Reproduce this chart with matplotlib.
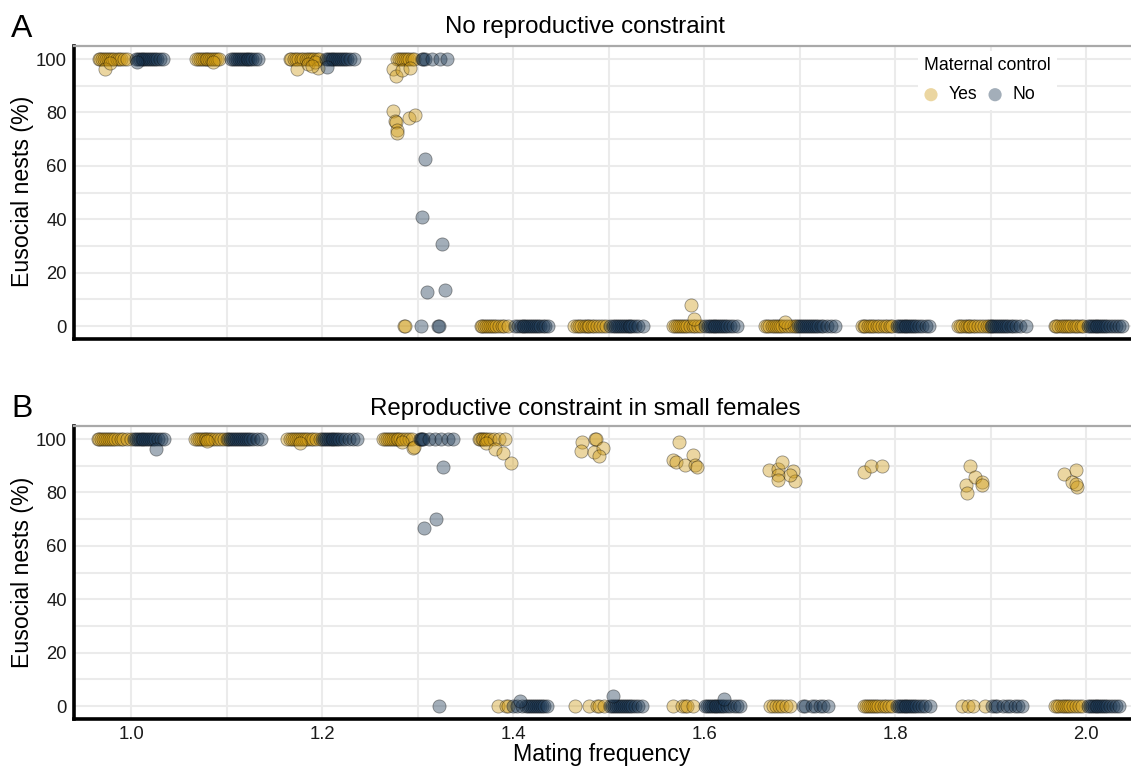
import matplotlib
matplotlib.use("Agg")
import matplotlib.pyplot as plt

plt.rcParams['font.family'] = ['Liberation Sans', 'DejaVu Sans']

# ---------------- data ----------------
titles = ["No reproductive constraint", "Reproductive constraint in small females"]
panel_letters = ["A", "B"]
groups = ["Yes", "No"]
legend_title = "Maternal control"
y_label = "Eusocial nests (%)"
x_label = "Mating frequency"
xticks_major = [1.0, 1.2, 1.4, 1.6, 1.8, 2.0]
xticks_minor = [1.1, 1.3, 1.5, 1.7, 1.9]
yticks_major = [0, 20, 40, 60, 80, 100]
yticks_minor = [10, 30, 50, 70, 90]

# Panel A, maternal control = Yes  (x = jittered mating frequency, y = % eusocial)
A_yes_x = [0.966, 0.968, 0.970, 0.972, 0.974, 0.976, 0.978, 0.980, 0.982, 0.985, 0.987, 0.990, 0.993, 0.996, 0.973, 0.978,
           1.068, 1.070, 1.072, 1.074, 1.076, 1.078, 1.080, 1.082, 1.084, 1.086, 1.088, 1.090, 1.092, 1.086,
           1.166, 1.168, 1.171, 1.173, 1.175, 1.178, 1.180, 1.183, 1.185, 1.187, 1.190, 1.192, 1.195, 1.197,
           1.174, 1.185, 1.196, 1.193, 1.190,
           1.279, 1.281, 1.283, 1.285, 1.287, 1.289, 1.291, 1.294, 1.296,
           1.274, 1.277, 1.284, 1.292, 1.274, 1.276, 1.277, 1.278, 1.279, 1.291, 1.297, 1.286, 1.287,
           1.366, 1.368, 1.370, 1.372, 1.374, 1.376, 1.378, 1.380, 1.382, 1.385, 1.388, 1.391, 1.395,
           1.464, 1.467, 1.469, 1.471, 1.474, 1.476, 1.478, 1.480, 1.483, 1.485, 1.488, 1.491, 1.494, 1.497,
           1.568, 1.570, 1.572, 1.574, 1.576, 1.578, 1.580, 1.582, 1.585, 1.588, 1.591, 1.594, 1.597, 1.586, 1.590,
           1.664, 1.666, 1.668, 1.671, 1.673, 1.675, 1.677, 1.680, 1.682, 1.685, 1.688, 1.691, 1.694, 1.696, 1.685,
           1.765, 1.767, 1.769, 1.772, 1.774, 1.776, 1.778, 1.781, 1.783, 1.786, 1.789, 1.792, 1.795, 1.797,
           1.866, 1.868, 1.870, 1.873, 1.875, 1.877, 1.879, 1.882, 1.884, 1.887, 1.890, 1.893, 1.896, 1.898,
           1.967, 1.969, 1.971, 1.974, 1.976, 1.978, 1.980, 1.982, 1.984, 1.987, 1.989, 1.992, 1.995, 1.997]
A_yes_y = [100, 100, 100, 100, 100, 100, 100, 100, 100, 100, 100, 100, 100, 100, 96.3, 98.4,
           100, 100, 100, 100, 100, 100, 100, 100, 100, 100, 100, 100, 100, 98.8,
           100, 100, 100, 100, 100, 100, 100, 100, 100, 100, 100, 100, 100, 100,
           96.3, 98.0, 96.7, 99.0, 97.5,
           100, 100, 100, 100, 100, 100, 100, 100, 100,
           96.3, 93.7, 96.0, 96.6, 80.6, 76.9, 76.3, 73.5, 72.2, 77.8, 79.1, 0, 0,
           0, 0, 0, 0, 0, 0, 0, 0, 0, 0, 0, 0, 0,
           0, 0, 0, 0, 0, 0, 0, 0, 0, 0, 0, 0, 0, 0,
           0, 0, 0, 0, 0, 0, 0, 0, 0, 0, 0, 0, 0, 7.8, 2.6,
           0, 0, 0, 0, 0, 0, 0, 0, 0, 0, 0, 0, 0, 0, 1.5,
           0, 0, 0, 0, 0, 0, 0, 0, 0, 0, 0, 0, 0, 0,
           0, 0, 0, 0, 0, 0, 0, 0, 0, 0, 0, 0, 0, 0,
           0, 0, 0, 0, 0, 0, 0, 0, 0, 0, 0, 0, 0, 0]

# Panel A, maternal control = No
A_no_x = [1.005, 1.007, 1.009, 1.011, 1.013, 1.015, 1.017, 1.019, 1.021, 1.023, 1.025, 1.027, 1.030, 1.033, 1.006,
          1.105, 1.107, 1.109, 1.111, 1.113, 1.115, 1.117, 1.119, 1.121, 1.123, 1.125, 1.127, 1.130, 1.133,
          1.204, 1.206, 1.208, 1.210, 1.212, 1.214, 1.216, 1.218, 1.220, 1.222, 1.224, 1.226, 1.229, 1.233, 1.205,
          1.305, 1.306, 1.308, 1.315, 1.324, 1.331,
          1.308, 1.305, 1.326, 1.310, 1.329, 1.304, 1.321, 1.322,
          1.402, 1.405, 1.408, 1.410, 1.412, 1.414, 1.416, 1.418, 1.420, 1.422, 1.424, 1.426, 1.428, 1.431, 1.434, 1.437,
          1.502, 1.505, 1.507, 1.509, 1.511, 1.513, 1.515, 1.517, 1.519, 1.521, 1.523, 1.525, 1.528, 1.531, 1.536,
          1.601, 1.604, 1.606, 1.608, 1.610, 1.612, 1.614, 1.616, 1.618, 1.620, 1.622, 1.624, 1.627, 1.630, 1.635,
          1.698, 1.701, 1.703, 1.705, 1.707, 1.709, 1.711, 1.713, 1.715, 1.717, 1.719, 1.722, 1.725, 1.729, 1.733, 1.737,
          1.802, 1.804, 1.806, 1.808, 1.810, 1.812, 1.814, 1.816, 1.818, 1.820, 1.822, 1.825, 1.828, 1.832, 1.836,
          1.900, 1.902, 1.904, 1.906, 1.908, 1.910, 1.912, 1.914, 1.916, 1.918, 1.921, 1.924, 1.927, 1.931, 1.937,
          2.002, 2.004, 2.006, 2.008, 2.010, 2.012, 2.014, 2.016, 2.018, 2.020, 2.022, 2.025, 2.028, 2.031, 2.035, 2.038]
A_no_y = [100, 100, 100, 100, 100, 100, 100, 100, 100, 100, 100, 100, 100, 100, 99.0,
          100, 100, 100, 100, 100, 100, 100, 100, 100, 100, 100, 100, 100, 100,
          100, 100, 100, 100, 100, 100, 100, 100, 100, 100, 100, 100, 100, 100, 97.2,
          100, 100, 100, 100, 100, 100,
          62.6, 40.7, 30.8, 12.7, 13.6, 0, 0, 0,
          0, 0, 0, 0, 0, 0, 0, 0, 0, 0, 0, 0, 0, 0, 0, 0,
          0, 0, 0, 0, 0, 0, 0, 0, 0, 0, 0, 0, 0, 0, 0,
          0, 0, 0, 0, 0, 0, 0, 0, 0, 0, 0, 0, 0, 0, 0,
          0, 0, 0, 0, 0, 0, 0, 0, 0, 0, 0, 0, 0, 0, 0, 0,
          0, 0, 0, 0, 0, 0, 0, 0, 0, 0, 0, 0, 0, 0, 0,
          0, 0, 0, 0, 0, 0, 0, 0, 0, 0, 0, 0, 0, 0, 0,
          0, 0, 0, 0, 0, 0, 0, 0, 0, 0, 0, 0, 0, 0, 0, 0]

# Panel B, maternal control = Yes
B_yes_x = [0.965, 0.967, 0.969, 0.971, 0.973, 0.975, 0.977, 0.979, 0.981, 0.983, 0.986, 0.989, 0.992, 0.996, 1.000,
           1.067, 1.069, 1.071, 1.073, 1.075, 1.077, 1.079, 1.081, 1.083, 1.085, 1.088, 1.091, 1.094, 1.097, 1.100, 1.080,
           1.163, 1.167, 1.169, 1.171, 1.173, 1.175, 1.177, 1.179, 1.181, 1.183, 1.185, 1.188, 1.191, 1.194, 1.198, 1.177,
           1.264, 1.266, 1.268, 1.270, 1.272, 1.274, 1.276, 1.278, 1.280, 1.282, 1.285, 1.288, 1.291, 1.294,
           1.284, 1.295, 1.296,
           1.364, 1.365, 1.367, 1.369, 1.371, 1.373, 1.376, 1.380, 1.385, 1.392,
           1.372, 1.381, 1.389, 1.398, 1.384, 1.393, 1.395,
           1.472, 1.486, 1.487, 1.471, 1.485, 1.494, 1.490, 1.465, 1.480, 1.488, 1.490, 1.495,
           1.574, 1.568, 1.571, 1.580, 1.588, 1.591, 1.593, 1.568, 1.577, 1.580, 1.582, 1.588,
           1.668, 1.677, 1.682, 1.677, 1.677, 1.693, 1.695, 1.690, 1.669, 1.672, 1.675, 1.678, 1.682, 1.686, 1.690,
           1.767, 1.775, 1.786,
           1.768, 1.770, 1.772, 1.774, 1.776, 1.778, 1.780, 1.782, 1.785, 1.788, 1.791, 1.794, 1.797,
           1.879, 1.874, 1.875, 1.884, 1.891, 1.891, 1.870, 1.876, 1.882, 1.894,
           1.977, 1.989, 1.985, 1.991, 1.990,
           1.967, 1.970, 1.972, 1.975, 1.977, 1.979, 1.981, 1.983, 1.986, 1.989, 1.993, 1.996]
B_yes_y = [100, 100, 100, 100, 100, 100, 100, 100, 100, 100, 100, 100, 100, 100, 100,
           100, 100, 100, 100, 100, 100, 100, 100, 100, 100, 100, 100, 100, 100, 100, 99.3,
           100, 100, 100, 100, 100, 100, 100, 100, 100, 100, 100, 100, 100, 100, 100, 98.5,
           100, 100, 100, 100, 100, 100, 100, 100, 100, 100, 100, 100, 100, 100,
           99.0, 96.8, 97.1,
           100, 100, 100, 100, 100, 100, 100, 100, 100, 100,
           98.4, 96.3, 94.9, 91.0, 0, 0, 0,
           99.0, 100, 100, 95.6, 95.0, 96.5, 93.6, 0, 0, 0, 0, 0,
           99.0, 92.1, 91.5, 90.4, 94.1, 90.4, 89.6, 0, 0, 0, 0, 0,
           88.4, 88.8, 91.3, 86.6, 84.6, 88.1, 84.4, 86.5, 0, 0, 0, 0, 0, 0, 0,
           87.5, 90.0, 90.0,
           0, 0, 0, 0, 0, 0, 0, 0, 0, 0, 0, 0, 0,
           90.0, 82.9, 79.8, 85.6, 84.1, 82.9, 0, 0, 0, 0,
           86.9, 88.4, 83.8, 82.1, 83.1,
           0, 0, 0, 0, 0, 0, 0, 0, 0, 0, 0, 0]

# Panel B, maternal control = No
B_no_x = [1.003, 1.005, 1.007, 1.009, 1.011, 1.013, 1.015, 1.017, 1.019, 1.021, 1.023, 1.025, 1.028, 1.031, 1.035, 1.026,
          1.102, 1.104, 1.106, 1.108, 1.110, 1.112, 1.114, 1.116, 1.118, 1.120, 1.122, 1.125, 1.128, 1.132, 1.136,
          1.200, 1.202, 1.204, 1.206, 1.208, 1.210, 1.212, 1.214, 1.216, 1.218, 1.221, 1.224, 1.228, 1.232, 1.237,
          1.303, 1.304, 1.305, 1.306, 1.312, 1.318, 1.325, 1.332, 1.337,
          1.327, 1.307, 1.319, 1.322,
          1.400, 1.404, 1.409, 1.414, 1.416, 1.418, 1.420, 1.422, 1.424, 1.426, 1.428, 1.430, 1.432, 1.436, 1.407,
          1.502, 1.504, 1.506, 1.508, 1.510, 1.512, 1.514, 1.516, 1.518, 1.520, 1.522, 1.525, 1.528, 1.531, 1.535, 1.505,
          1.601, 1.603, 1.605, 1.607, 1.609, 1.611, 1.613, 1.615, 1.617, 1.619, 1.621, 1.624, 1.627, 1.631, 1.635, 1.638, 1.621,
          1.704, 1.706, 1.713, 1.716, 1.721, 1.725, 1.730,
          1.802, 1.804, 1.806, 1.808, 1.810, 1.812, 1.814, 1.816, 1.818, 1.820, 1.822, 1.825, 1.828, 1.831, 1.837,
          1.902, 1.905, 1.907, 1.913, 1.917, 1.920, 1.926, 1.929, 1.933,
          2.002, 2.004, 2.006, 2.008, 2.010, 2.012, 2.014, 2.016, 2.018, 2.020, 2.022, 2.025, 2.028, 2.031, 2.035]
B_no_y = [100, 100, 100, 100, 100, 100, 100, 100, 100, 100, 100, 100, 100, 100, 100, 96.1,
          100, 100, 100, 100, 100, 100, 100, 100, 100, 100, 100, 100, 100, 100, 100,
          100, 100, 100, 100, 100, 100, 100, 100, 100, 100, 100, 100, 100, 100, 100,
          100, 100, 100, 100, 100, 100, 100, 100, 100,
          89.4, 66.5, 69.9, 0,
          0, 0, 0, 0, 0, 0, 0, 0, 0, 0, 0, 0, 0, 0, 2.0,
          0, 0, 0, 0, 0, 0, 0, 0, 0, 0, 0, 0, 0, 0, 0, 3.7,
          0, 0, 0, 0, 0, 0, 0, 0, 0, 0, 0, 0, 0, 0, 0, 0, 2.5,
          0, 0, 0, 0, 0, 0, 0,
          0, 0, 0, 0, 0, 0, 0, 0, 0, 0, 0, 0, 0, 0, 0,
          0, 0, 0, 0, 0, 0, 0, 0, 0,
          0, 0, 0, 0, 0, 0, 0, 0, 0, 0, 0, 0, 0, 0, 0]

for xs, ys in [(A_yes_x, A_yes_y), (A_no_x, A_no_y), (B_yes_x, B_yes_y), (B_no_x, B_no_y)]:
    assert len(xs) == len(ys), (len(xs), len(ys))

# ---------------- styling ----------------
colors = {"Yes": "#CF9A14", "No": "#1A3652"}
ALPHA = 0.4
MS = 90

W, H = 1131, 767
fig = plt.figure(figsize=(W / 100, H / 100), dpi=100)

ax_left = 74 / W
ax_w = 1 - ax_left
ax_h = 293.7 / H
axA = fig.add_axes([ax_left, 1 - 339.4 / H, ax_w, ax_h])
axB = fig.add_axes([ax_left, 1 - 719.4 / H, ax_w, ax_h])

data = [
    ((A_yes_x, A_yes_y), (A_no_x, A_no_y)),
    ((B_yes_x, B_yes_y), (B_no_x, B_no_y)),
]

handles = []
for i, (ax, (yes, no)) in enumerate(zip([axA, axB], data)):
    for g, (xs, ys) in zip(groups, [yes, no]):
        h = ax.scatter(xs, ys, s=MS, facecolor=colors[g], edgecolor="black",
                       linewidths=0.6, alpha=ALPHA, zorder=3, label=g)
        if i == 0:
            handles.append(h)
    ax.set_xlim(0.9403, 2.0471)
    ax.set_ylim(-5, 105)
    ax.set_xticks(xticks_major)
    ax.set_xticks(xticks_minor, minor=True)
    ax.set_yticks(yticks_major)
    ax.set_yticks(yticks_minor, minor=True)
    ax.set_xticklabels([f"{v:.1f}" for v in xticks_major])
    ax.grid(which="both", color="#EBEBEB", linewidth=1.5)
    ax.set_axisbelow(True)
    ax.tick_params(which="both", length=0, labelsize=13.3, colors="#1a1a1a", pad=5)
    for side in ["left", "bottom"]:
        ax.spines[side].set_color("black")
        ax.spines[side].set_linewidth(2.6)
    ax.spines["top"].set_color("#A9A9A9")
    ax.spines["top"].set_linewidth(1.6)
    ax.spines["right"].set_visible(False)

axA.tick_params(labelbottom=False)

# titles and panel letters
fig.text(585 / W, 1 - 27 / H, titles[0], ha="center", va="center", fontsize=17.3)
fig.text(585 / W, 1 - 409 / H, titles[1], ha="center", va="center", fontsize=17.3)
fig.text(11 / W, 1 - 29 / H, panel_letters[0], ha="left", va="center", fontsize=23)
fig.text(11 / W, 1 - 409 / H, panel_letters[1], ha="left", va="center", fontsize=23)

# axis labels
fig.text(22 / W, 1 - 191.5 / H, y_label, rotation=90, ha="center", va="center", fontsize=16.7)
fig.text(22 / W, 1 - 572 / H, y_label, rotation=90, ha="center", va="center", fontsize=16.7)
fig.text(602 / W, 1 - 755 / H, x_label, ha="center", va="center", fontsize=16.7)

# legend
leg = axA.legend(handles, groups, title=legend_title, ncol=2,
                 loc="upper right", bbox_to_anchor=(1066 / W, 1 - 42 / H),
                 bbox_transform=fig.transFigure, frameon=True, facecolor="white",
                 edgecolor="none", framealpha=1, fancybox=False, fontsize=12.7,
                 title_fontsize=12.7, handlelength=0.75, handletextpad=0.6,
                 columnspacing=0.66, labelspacing=0.7, borderpad=0.35,
                 markerscale=1.0)
leg._legend_box.align = "left"
for lh in leg.legend_handles:
    lh.set_edgecolor("none")

fig.savefig("out.png", dpi=100)
